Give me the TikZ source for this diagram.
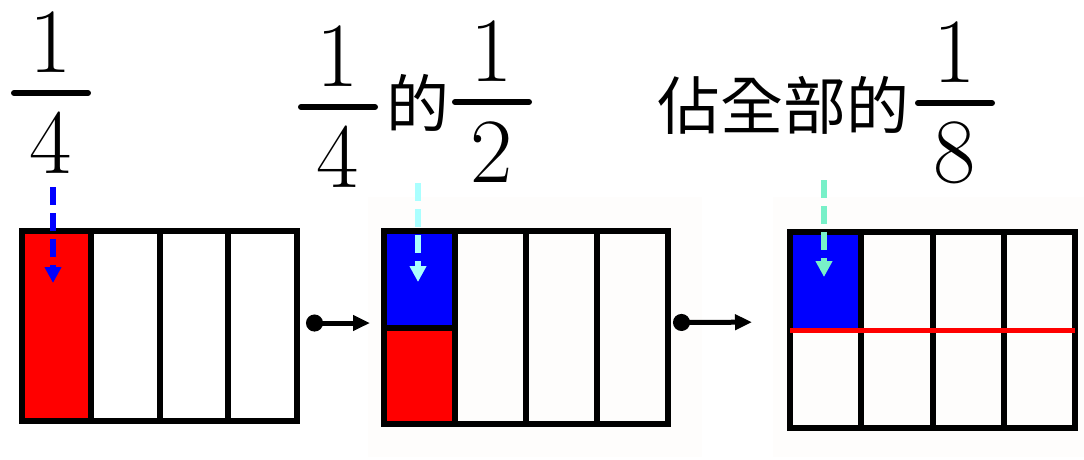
\documentclass[tikz,border=0pt]{standalone}
\usepackage{fontspec}
\newfontfamily\cjkfont{Noto Sans CJK TC}
\usetikzlibrary{arrows.meta,calc}
\definecolor{cellred}{RGB}{255,0,0}
\definecolor{cellblue}{RGB}{0,0,255}
\definecolor{palecyan}{RGB}{170,255,255}
\definecolor{aquagreen}{RGB}{120,240,200}
\definecolor{sheet}{RGB}{254,253,252}

\newcommand{\bigfrac}[5]{% name, x, bar y, numerator, denominator
  \node[digit] (#1n) at (#2,#3-51) {#4};
  \node[digit] (#1d) at (#2,#3+50) {#5};
  \draw[fracbar] (#2-37,#3) -- (#2+37,#3);}

\begin{document}
\begin{tikzpicture}[x=1pt,y=-1pt,
    digit/.style={font=\fontsize{92}{92}\selectfont,inner sep=0pt},
    hanzi/.style={font=\cjkfont\fontsize{63}{63}\selectfont,inner sep=0pt},
    fracbar/.style={line width=6pt,line cap=round},
    barbox/.style={inner sep=0pt,outer sep=0pt},
    grid/.style={line width=6pt},
    pointer/.style={line width=5.5pt,dash pattern=on 18pt off 8pt,-{Triangle[length=16pt,width=16pt]}},
    link/.style={line width=5pt,{Circle[length=17pt]}-{Triangle[length=17pt,width=15pt]}}]
  \useasboundingbox (0,0) rectangle (1084,459);
  % faint sheets behind the second and third bars
  \fill[sheet] (368,197) rectangle (702,457);
  \fill[sheet] (773,197) rectangle (1084,457);

  % labels
  \bigfrac{qa}{51}{93}{1}{4}
  \bigfrac{qb}{338}{107}{1}{4}
  \node[hanzi] (de) at (418,103) {的};
  \bigfrac{hb}{492}{102}{1}{2}
  \node[hanzi] (part) at (783,105) {佔全部的};
  \bigfrac{ec}{955}{103}{1}{8}

  % bars
  \node[barbox,minimum width=275pt,minimum height=190pt] (b1) at (159.5,326) {};
  \node[barbox,minimum width=284pt,minimum height=193pt] (b2) at (526,327.5) {};
  \node[barbox,minimum width=285pt,minimum height=196pt] (b3) at (932.5,330) {};

  \fill[cellred] (b1.north west) rectangle ($(b1.south west)!.25!(b1.south east)$);
  \fill[cellblue] (b2.north west) rectangle ($(b2.west)!.25!(b2.east)$);
  \fill[cellred] (b2.west) rectangle ($(b2.south west)!.25!(b2.south east)$);
  \fill[cellblue] (b3.north west) rectangle ($(b3.west)!.25!(b3.east)$);

  \foreach \b in {b1,b2,b3}{
    \foreach \i in {1,2,3}
      \draw[grid] ($(\b.north west)!\i/4!(\b.north east)$) -- ($(\b.south west)!\i/4!(\b.south east)$);
    \draw[grid] (\b.north west) rectangle (\b.south east);}
  \draw[grid] (b2.west) -- ($(b2.west)!.25!(b2.east)$);
  \draw[line width=5pt,cellred] (b3.west) -- (b3.east);

  % pointers
  \coordinate (qatop) at (53,187);
  \coordinate (qatip) at (53,283);
  \coordinate (detop) at (418,183);
  \coordinate (detip) at (418,282);
  \coordinate (ectop) at (824,180);
  \coordinate (ectip) at (824,277);
  \draw[pointer,cellblue] (qatop) -- (qatip);
  \draw[pointer,palecyan] (detop) -- (detip);
  \draw[pointer,aquagreen] (ectop) -- (ectip);

  \draw[link,shorten <=9pt,shorten >=14pt] ([yshift=3pt]b1.east) -- ([yshift=4.5pt]b2.west);
  \draw[link,shorten <=5pt,shorten >=38pt] ([yshift=5pt]b2.east) -- ([yshift=8pt]b3.west);
\end{tikzpicture}
\end{document}
